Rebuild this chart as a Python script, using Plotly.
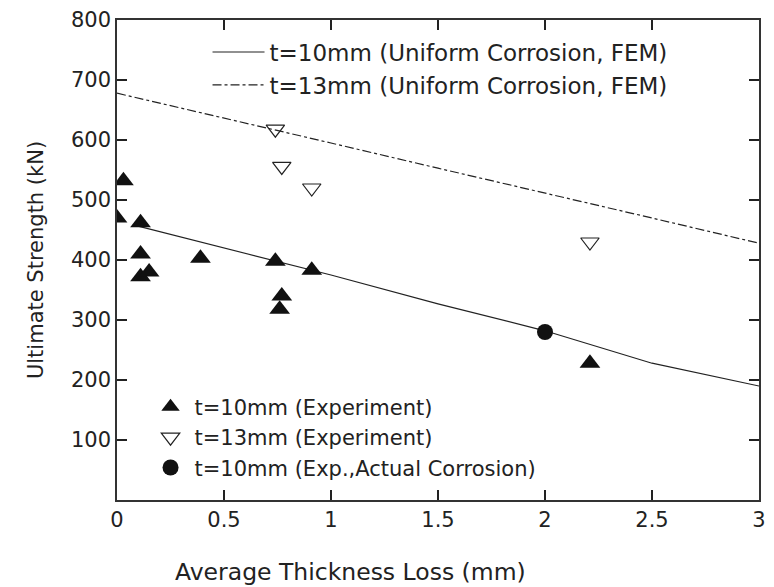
import plotly.graph_objects as go

# FEM curves
fem_x = [0.0, 0.5, 1.0, 1.5, 2.0, 2.5, 3.0]
fem10_x = [0.08, 0.5, 1.0, 1.5, 2.0, 2.5, 3.0]
fem10_y = [458, 420, 375, 327, 282, 228, 190]
fem13_y = [678, 637, 595, 553, 512, 470, 428]

# Experiments
exp10_x = [0.0, 0.03, 0.11, 0.11, 0.11, 0.15, 0.39, 0.74, 0.77, 0.76, 0.91, 2.21]
exp10_y = [470, 532, 462, 410, 372, 380, 403, 398, 340, 318, 383, 228]
exp13_x = [0.74, 0.77, 0.91, 2.21]
exp13_y = [618, 556, 520, 430]
act10_x = [2.0]
act10_y = [280]

x_ticks = [0, 0.5, 1, 1.5, 2, 2.5, 3]
x_labels = ["0", "0.5", "1", "1.5", "2", "2.5", "3"]
y_ticks = [100, 200, 300, 400, 500, 600, 700, 800]

FONT = "DejaVu Sans, Verdana, sans-serif"
TXT = "#222222"

fig = go.Figure()
fig.add_trace(go.Scatter(x=fem10_x, y=fem10_y, mode="lines",
                         line=dict(color="#222", width=1.2),
                         name="t=10mm (Uniform Corrosion, FEM)", legend="legend"))
fig.add_trace(go.Scatter(x=fem_x, y=fem13_y, mode="lines",
                         line=dict(color="#222", width=1.2, dash="dashdot"),
                         name="t=13mm (Uniform Corrosion, FEM)", legend="legend"))
fig.add_trace(go.Scatter(x=exp10_x, y=exp10_y, mode="markers",
                         marker=dict(symbol="triangle-up", size=18, color="#111"),
                         name="t=10mm (Experiment)", legend="legend2"))
fig.add_trace(go.Scatter(x=exp13_x, y=exp13_y, mode="markers",
                         marker=dict(symbol="triangle-down-open", size=16, color="#222",
                                     line=dict(width=1.2)),
                         name="t=13mm (Experiment)", legend="legend2"))
fig.add_trace(go.Scatter(x=act10_x, y=act10_y, mode="markers",
                         marker=dict(symbol="circle", size=16, color="#111"),
                         name="t=10mm (Exp.,Actual Corrosion)", legend="legend2"))

axis_common = dict(showgrid=False, zeroline=False, showline=True, linecolor="#333",
                   linewidth=1.5, mirror="ticks", ticks="inside", ticklen=10,
                   tickwidth=1.5, tickcolor="#222", automargin=False,
                   tickfont=dict(family=FONT, size=21, color=TXT))

fig.update_layout(
    width=774, height=587,
    margin=dict(l=117, r=15, t=20, b=87),
    paper_bgcolor="white", plot_bgcolor="white",
    font=dict(family=FONT, color=TXT),
    xaxis=dict(range=[0, 3], tickvals=x_ticks, ticktext=x_labels, **axis_common),
    yaxis=dict(range=[0, 800], tickvals=y_ticks,
               title=dict(text="Ultimate Strength (kN)", font=dict(size=21, family=FONT, color=TXT),
                          standoff=22),
               **axis_common),
    annotations=[dict(text="Average Thickness Loss (mm)", xref="paper", yref="paper",
                      x=0.363, y=-0.15, xanchor="center", yanchor="middle", showarrow=False,
                      font=dict(size=23.5, family=FONT, color=TXT))],
    legend=dict(x=0.141, y=0.978, xanchor="left", yanchor="top",
                bgcolor="rgba(0,0,0,0)", font=dict(size=23, family=FONT, color=TXT),
                tracegroupgap=0, itemwidth=52),
    legend2=dict(x=0.046, y=0.236, xanchor="left", yanchor="top",
                 bgcolor="rgba(0,0,0,0)", font=dict(size=21, family=FONT, color=TXT),
                 tracegroupgap=0, itemwidth=38),
)

fig.write_html("out.html")
